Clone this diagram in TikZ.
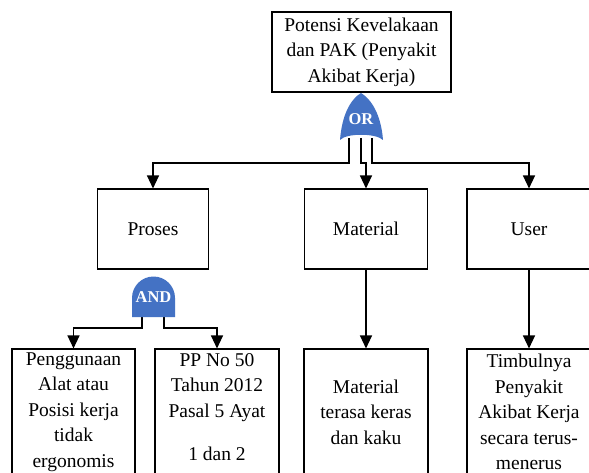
\documentclass[tikz,border=0pt]{standalone}
\usepackage{fontspec}
\setmainfont{Liberation Serif}
\usetikzlibrary{arrows.meta}
\definecolor{gateblue}{HTML}{4472C4}
\begin{document}
\begin{tikzpicture}[x=1pt,y=-1pt,
  box/.style={draw=black, line width=1.1pt, fill=white, inner sep=0pt, align=center,
              font=\fontsize{19.5}{25.4}\selectfont},
  boxtext/.style={inner sep=0pt, align=center, font=\fontsize{19.5}{25.4}\selectfont},
  wire/.style={line width=1.3pt},
  arrowwire/.style={wire, -{Triangle[length=13pt,width=12pt]}},
  gate/.style={fill=gateblue},
  gatelabel/.style={text=white, inner sep=0pt, font=\bfseries\fontsize{16.5}{16.5}\selectfont}
]
\useasboundingbox (0,0) rectangle (589,473);
\fill[white] (0,0) rectangle (589,473);
\clip (0,0) rectangle (589,473);

% top event
\node[box, minimum width=179pt, minimum height=80pt] (top) at (361.5,52)
  {Potensi Kevelakaan\\dan PAK (Penyakit\\Akibat Kerja)};

% intermediate events
\node[box, minimum width=111pt, minimum height=80pt] (proses) at (153,229) {Proses};
\node[box, minimum width=123pt, minimum height=80pt] (material) at (366,229) {Material};
\node[box, minimum width=124pt, minimum height=80pt] (user) at (529,229) {User};

% basic events
\node[box, minimum width=123pt, minimum height=126pt] (alat) at (73.5,412)
  {Penggunaan\\Alat atau\\Posisi kerja\\tidak\\ergonomis};
\node[box, minimum width=124pt, minimum height=126pt] (pp) at (217,412) {};
\node[boxtext] (pptext) at (217,407)
  {PP No 50\\Tahun 2012\\Pasal 5 Ayat\\[18pt]1 dan 2};
\node[box, minimum width=124pt, minimum height=126pt] (keras) at (366,412)
  {Material\\terasa keras\\dan kaku};
\node[box, minimum width=124pt, minimum height=126pt] (timbul) at (529,412)
  {Timbulnya\\Penyakit\\Akibat Kerja\\secara terus-\\menerus};

% gate outputs
\coordinate (orL) at (349,138);
\coordinate (orC) at (361,138);
\coordinate (orR) at (372,138);
\coordinate (andL) at (142,315);
\coordinate (andR) at (164,315);

% connectors
\draw[arrowwire] (orL) -- (349,163) -| (proses.north);
\draw[arrowwire] (orC) -- (361,163) -| (material.north);
\draw[arrowwire] (orR) -- (372,163) -| (user.north);
\draw[arrowwire] (andL) -- (142,328) -| (alat.north);
\draw[arrowwire] (andR) -- (164,328) -| (pp.north);
\draw[arrowwire] (material.south) -- (keras.north);
\draw[arrowwire] (user.south) -- (timbul.north);

% OR gate
\fill[gate] (340,140) .. controls (342,114) and (351,99) .. (361,93)
  .. controls (371,99) and (381,114) .. (383,140)
  .. controls (376,133) and (346,133) .. (340,140) -- cycle;
\node[gatelabel] (orlabel) at (361,119) {OR};

% AND gate
\fill[gate] (132,317) -- (132,298) arc[start angle=180, end angle=360, radius=21.5]
  -- (175,317) -- cycle;
\node[gatelabel] (andlabel) at (153.5,297) {AND};
\end{tikzpicture}
\end{document}
